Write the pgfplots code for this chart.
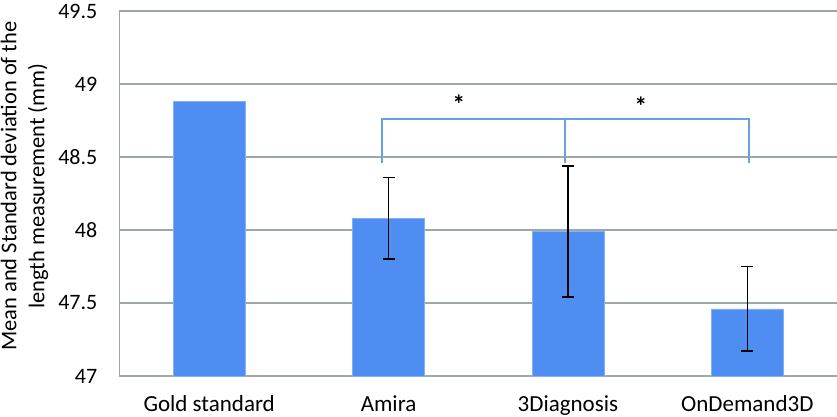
\documentclass[border=0pt]{standalone}
\usepackage{fontspec}
\setmainfont{Carlito}
\usepackage{pgfplots}
\pgfplotsset{compat=1.18}

\definecolor{barblue}{HTML}{4E8EF2}
\definecolor{brackblue}{HTML}{6A9FE8}
\definecolor{gridgray}{HTML}{A0A7A7}

\begin{document}
\begin{tikzpicture}
\begin{axis}[
  name=main,
  scale only axis, width=717.5pt, height=365pt,
  xmin=-0.5, xmax=3.5, ymin=47, ymax=49.5,
  xtick={0,1,2,3},
  xticklabels={Gold standard, Amira, 3Diagnosis, OnDemand3D},
  ytick={47,47.5,48,48.5,49,49.5},
  major tick length=0pt,
  axis x line*=bottom, axis y line*=left,
  axis line style={gridgray, line width=1.3pt, -},
  ymajorgrids, grid style={gridgray, line width=1.3pt},
  yticklabel style={font=\fontsize{22}{26}\selectfont},
  xticklabel style={font=\fontsize{23}{27}\selectfont},
  /pgf/number format/assume math mode=true,
  yticklabel style={inner sep=0pt, anchor=east, xshift=-22pt},
  xticklabel style={inner sep=0pt, anchor=base, yshift=-35pt},
  ylabel={Mean and Standard deviation of the\\length measurement (mm)},
  ylabel style={font=\fontsize{22.5}{28}\selectfont, align=center,
    at={(axis description cs:-0.1325,0.52)}, anchor=center},
  clip=false,
]
% gold standard bar (no deviation shown)
\addplot[ybar, bar shift=0pt, bar width=0.4, fill=barblue, draw=barblue!70!white]
  coordinates {(0,48.88)};
% software bars with standard deviations
\addplot[ybar, bar shift=0pt, bar width=0.4, fill=barblue, draw=barblue!70!white,
  error bars/.cd, y dir=both, y explicit,
  error bar style={black, line width=1.5pt},
  error mark options={black, rotate=90, mark size=6pt, line width=1.5pt}]
  coordinates {(1,48.08) +- (0,0.28) (2,47.99) +- (0,0.45) (3,47.46) +- (0,0.29)};
% significance bracket
\addplot[brackblue, line width=1.6pt]
  coordinates {(0.963,48.46) (0.963,48.76) (3.009,48.76) (3.009,48.46)};
\addplot[brackblue, line width=1.6pt]
  coordinates {(1.983,48.76) (1.983,48.46)};
\node[font=\fontsize{26}{30}\selectfont\bfseries] at (axis cs:1.392,48.86) {*};
\node[font=\fontsize{26}{30}\selectfont\bfseries] at (axis cs:2.407,48.85) {*};
\end{axis}
\pgfresetboundingbox
\path (main.south west) ++(-119.5pt,-41pt) rectangle ([yshift=11pt]main.north east);
\end{tikzpicture}
\end{document}
